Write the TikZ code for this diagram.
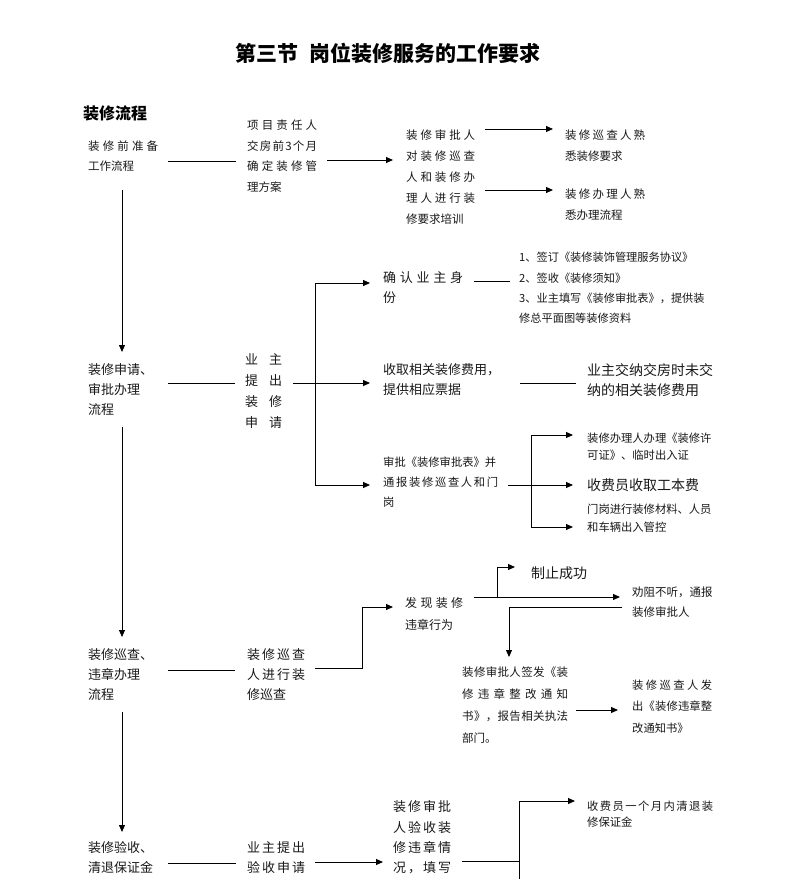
\documentclass[tikz,border=0pt]{standalone}
\usepackage{fontspec}
\setmainfont{Noto Sans CJK SC}
\usetikzlibrary{arrows.meta,calc}
\newcommand\fs[2]{\fontsize{#1}{#2}\selectfont}
\newcommand\spr[2]{\makebox[#1][s]{\sprA#2\relax}}
\def\sprA#1{#1\sprB}
\def\sprB#1{\ifx\relax#1\else\hfil#1\expandafter\sprB\fi}
\begin{document}
\begin{tikzpicture}[x=1pt,y=-1pt,
  txt/.style={anchor=west, inner sep=0pt, align=left, text width=230pt, text=black!90},
  ln/.style={line width=1pt, black},
  arr/.style={ln, -{Triangle[length=7pt,width=6pt]}}]
\useasboundingbox (0,0) rectangle (792,879);
\fill[white] (0,0) rectangle (792,879);
% title
\node[inner sep=0pt, font=\fs{21}{25}\bfseries] (title) at (388,53) {第三节\hspace{0.5em}岗位装修服务的工作要求};
\node[txt, font=\fs{16}{20}\bfseries, text=black] (hd) at (83,113) {装修流程};
% row 1
\node[txt,font=\fs{11.5}{20}] (n1) at (88,156) {\spr{70pt}{装修前准备}\\工作流程};
\node[txt,font=\fs{11.5}{20.7}] (n2) at (247,156) {\spr{70pt}{项目责任人}\\\spr{70pt}{交房前3个月}\\\spr{70pt}{确定装修管}\\理方案};
\node[txt,font=\fs{11.5}{21}] (n3) at (406,177) {\spr{69pt}{装修审批人}\\\spr{69pt}{对装修巡查}\\\spr{69pt}{人和装修办}\\\spr{69pt}{理人进行装}\\修要求培训};
\node[txt,font=\fs{11.5}{21}] (n4) at (565,145.5) {\spr{80pt}{装修巡查人熟}\\悉装修要求};
\node[txt,font=\fs{11.5}{21}] (n5) at (565,205) {\spr{80pt}{装修办理人熟}\\悉办理流程};
% row 2
\node[txt,font=\fs{13}{20}] (n6) at (88,390) {装修申请、\\审批办理\\流程};
\node[txt,font=\fs{13}{21}] (n7) at (245,391) {\spr{37pt}{业主}\\\spr{37pt}{提出}\\\spr{37pt}{装修}\\\spr{37pt}{申请}};
\node[txt,font=\fs{13}{20}] (n8) at (383,288) {\spr{80pt}{确认业主身}\\份};
\node[txt,font=\fs{11.2}{20.3}] (n9) at (519,288) {1、签订《装修装饰管理服务协议》\\2、签收《装修须知》\\3、业主填写《装修审批表》，提供装\\修总平面图等装修资料};
\node[txt,font=\fs{13}{20}] (n10) at (383,380) {收取相关装修费用，\\提供相应票据};
\node[txt,font=\fs{14}{20}] (n11) at (587,380) {业主交纳交房时未交\\纳的相关装修费用};
\node[txt,font=\fs{11.3}{20}] (n12) at (383,482) {审批《装修审批表》并\\\spr{115pt}{通报装修巡查人和门}\\岗};
\node[txt,font=\fs{11.3}{17.5}] (n13) at (587,446.5) {装修办理人办理《装修许\\可证》、临时出入证};
\node[txt,font=\fs{14}{20}] (n14) at (587,485) {收费员收取工本费};
\node[txt,font=\fs{11.3}{18}] (n15) at (587,518) {门岗进行装修材料、人员\\和车辆出入管控};
% row 3
\node[txt,font=\fs{13}{20}] (n16) at (88,675) {装修巡查、\\违章办理\\流程};
\node[txt,font=\fs{13}{20}] (n17) at (247,675) {\spr{58pt}{装修巡查}\\\spr{58pt}{人进行装}\\修巡查};
\node[txt,font=\fs{12}{22}] (n18) at (405,614) {\spr{58pt}{发现装修}\\违章行为};
\node[txt,font=\fs{14}{20}] (n19) at (531,573) {制止成功};
\node[txt,font=\fs{11.5}{20}] (n20) at (632,602) {劝阻不听，通报\\装修审批人};
\node[txt,font=\fs{11.5}{22}] (n21) at (462,705.5) {\spr{106pt}{装修审批人签发《装}\\\spr{106pt}{修违章整改通知}\\\spr{106pt}{书》，报告相关执法}\\部门。};
\node[txt,font=\fs{11.3}{21.5}] (n22) at (632,706.5) {\spr{80pt}{装修巡查人发}\\\spr{80pt}{出《装修违章整}\\改通知书》};
% row 4
\node[txt,font=\fs{13}{20}] (n23) at (88,858) {装修验收、\\清退保证金};
\node[txt,font=\fs{13}{20}] (n24) at (247,858) {\spr{58pt}{业主提出}\\\spr{58pt}{验收申请}};
\node[txt,font=\fs{13}{20.3}] (n25) at (393,837.5) {\spr{58pt}{装修审批}\\\spr{58pt}{人验收装}\\\spr{58pt}{修违章情}\\\spr{58pt}{况，填写}};
\node[txt,font=\fs{11.3}{16.5}] (n26) at (587,814) {\spr{126pt}{收费员一个月内清退装}\\修保证金};
% junctions
\coordinate (j1) at (315,383);
\coordinate (j2) at (531,485);
\coordinate (j3) at (497,597);
\coordinate (j4) at (519,861);
\coordinate (bot) at (519,879);
% connectors row 1
\draw[ln] ([shift={(80,5)}]n1.west) -- ([shift={(-11,5)}]n2.west);
\draw[arr] ([shift={(80,4)}]n2.west) -- ([shift={(-13,-17)}]n3.west);
\draw[arr] ([shift={(79,-48)}]n3.west) -- ([shift={(-12,-16.5)}]n4.west);
\draw[arr] ([shift={(79,13)}]n3.west) -- ([shift={(-12,-15)}]n5.west);
\draw[arr] ([shift={(34,34)}]n1.west) -- ([shift={(34,-38)}]n6.west);
% row 2
\draw[ln] ([shift={(80,-7)}]n6.west) -- ([shift={(-10,-8)}]n7.west);
\draw[arr] ([shift={(48,-8)}]n7.west) -- ([shift={(-13,3)}]n10.west);
\draw[arr] (j1) |- ([shift={(-13,-5)}]n8.west);
\draw[arr] (j1) |- ([shift={(-13,3)}]n12.west);
\draw[ln] ([shift={(91,-7)}]n8.west) -- ([shift={(-9,-7)}]n9.west);
\draw[ln] ([shift={(137,3)}]n10.west) -- ([shift={(-11,3)}]n11.west);
\draw[arr] ([shift={(125,3)}]n12.west) -- ([shift={(-14,0)}]n14.west);
\draw[arr] (j2) |- ([shift={(-14,-11.5)}]n13.west);
\draw[arr] (j2) |- ([shift={(-14,9)}]n15.west);
\draw[arr] ([shift={(34,37)}]n6.west) -- ([shift={(34,-38)}]n16.west);
% row 3
\draw[ln] ([shift={(80,-5)}]n16.west) -- ([shift={(-12,-5)}]n17.west);
\draw[arr] ([shift={(68,-7)}]n17.west) -- ++(47,0) |- ([shift={(-12,-7)}]n18.west);
\draw[arr] ([shift={(69,-17)}]n18.west) -- ([shift={(-12,-5)}]n20.west);
\draw[arr] (j3) |- ([shift={(-16,-6)}]n19.west);
\draw[arr] ([shift={(-10,5)}]n20.west) -| ([shift={(47,-48.5)}]n21.west);
\draw[arr] ([shift={(114,4.5)}]n21.west) -- ([shift={(-14,3.5)}]n22.west);
\draw[arr] ([shift={(34,37)}]n16.west) -- ([shift={(34,-26)}]n23.west);
% row 4
\draw[ln] ([shift={(80,5)}]n23.west) -- ([shift={(-11,5)}]n24.west);
\draw[arr] ([shift={(68,4)}]n24.west) -- ([shift={(-10,24.5)}]n25.west);
\draw[ln] ([shift={(69,23.5)}]n25.west) -- (j4);
\draw[ln] (j4) -- (bot);
\draw[arr] (j4) |- ([shift={(-12,-13)}]n26.west);
\end{tikzpicture}
\end{document}
